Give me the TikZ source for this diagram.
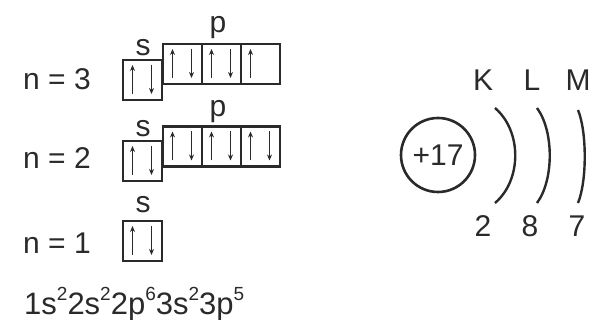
\documentclass[tikz,border=0pt]{standalone}
\usepackage{fontspec}
\setmainfont{Liberation Sans}
\usetikzlibrary{arrows.meta}
\definecolor{ink}{HTML}{2A2A2A}
\newcommand\ssup[1]{\raisebox{14pt}{\fontsize{19}{19}\selectfont #1}}
\tikzset{
  txt/.style={text=ink, inner sep=0pt, font=\fontsize{30}{34}\selectfont},
  orb/.style={draw=ink, line width=2.8pt, minimum width=39pt, minimum height=40pt, inner sep=0pt},
  spin/.style={draw=ink, line width=1.5pt, -{Stealth[length=6pt,width=5pt]}},
  shell/.style={draw=ink, line width=2.4pt},
  updown/.pic={\draw[spin] (-10,14) -- (-10,-15); \draw[spin] (9,-15) -- (9,14);},
  uponly/.pic={\draw[spin] (-10,14) -- (-10,-15);}
}
\begin{document}
\begin{tikzpicture}[x=1pt,y=-1pt]
\fill[white] (0,0) rectangle (597,320);
\useasboundingbox (0,0) rectangle (597,320);

% level labels
\node[txt] (n3) at (57,79) {n = 3};
\node[txt] (n2) at (57,158) {n = 2};
\node[txt] (n1) at (57,243) {n = 1};

% n = 3 : s and p orbitals
\node[txt] (s3lab) at (143,48) {s};
\node[orb] (s3) at (142.5,80) {};
\pic at (s3.center) {updown};
\node[txt] (p3lab) at (218,28) {p};
\node[orb] (p3a) at (182.5,64) {};
\node[orb] (p3b) at (221.5,64) {};
\node[orb] (p3c) at (260.5,64) {};
\pic at (p3a.center) {updown};
\pic at (p3b.center) {updown};
\pic at (p3c.center) {uponly};

% n = 2 : s and p orbitals
\node[txt] (s2lab) at (143,129) {s};
\node[orb] (s2) at (142.5,161) {};
\pic at (s2.center) {updown};
\node[txt] (p2lab) at (218,112) {p};
\node[orb] (p2a) at (182.5,146.5) {};
\node[orb] (p2b) at (221.5,146.5) {};
\node[orb] (p2c) at (260.5,146.5) {};
\pic at (p2a.center) {updown};
\pic at (p2b.center) {updown};
\pic at (p2c.center) {updown};

% n = 1 : s orbital
\node[txt] (s1lab) at (143,205) {s};
\node[orb] (s1) at (142.5,241) {};
\pic at (s1.center) {updown};

% electron configuration
\node[txt, anchor=base west, font=\fontsize{31}{34}\selectfont] (conf) at (24,315)
  {1s\ssup{2}2s\ssup{2}2p\ssup{6}3s\ssup{2}3p\ssup{5}};

% nucleus and shells
\node[draw=ink, line width=2.6pt, circle, minimum size=74pt, inner sep=0pt,
      text=ink, font=\fontsize{30}{32}\selectfont] (nuc) at (438,155) {+17};

\draw[shell] (495,108) .. controls (522,131) and (522,180) .. (495,203);
\draw[shell] (537,108) .. controls (554,131) and (554,180) .. (537,203);
\draw[shell] (578,110) .. controls (587,132) and (587,181) .. (578,203);

\node[txt] (K) at (483,80) {K};
\node[txt] (L) at (532,80) {L};
\node[txt] (M) at (578,80) {M};
\node[txt] (eK) at (483,226) {2};
\node[txt] (eL) at (530,226) {8};
\node[txt] (eM) at (577,226) {7};
\end{tikzpicture}
\end{document}
